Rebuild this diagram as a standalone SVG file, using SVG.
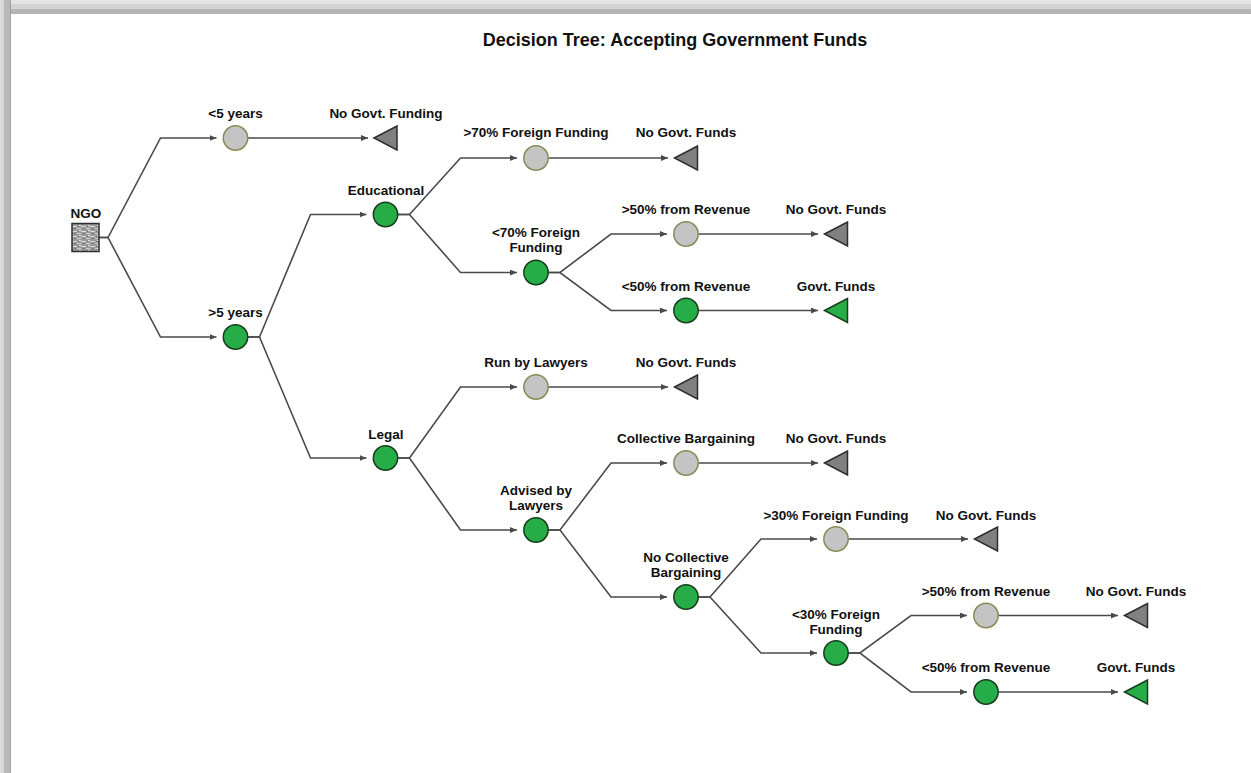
<svg xmlns="http://www.w3.org/2000/svg" width="1251" height="773" viewBox="0 0 1251 773">
<style>
.lbl{font-family:"Liberation Sans",Arial,sans-serif;font-weight:bold;font-size:13.5px;fill:#111;text-anchor:middle}
.title{font-family:"Liberation Sans",Arial,sans-serif;font-weight:bold;font-size:18px;fill:#111;text-anchor:middle}
.cg{fill:#c4c4c4;stroke:#8a8a58;stroke-width:1.5}
.cgr{fill:#27ad48;stroke:#173d1c;stroke-width:1.5}
.tg{fill:#808080;stroke:#2e2e2e;stroke-width:1.5}
.tgr{fill:#27ad48;stroke:#173d1c;stroke-width:1.5}
.arr{fill:none;stroke:#4a4a4a;stroke-width:1.6;marker-end:url(#ah)}
</style>
<defs>
<marker id="ah" viewBox="0 0 7 6" refX="7" refY="3" markerWidth="7" markerHeight="6" markerUnits="userSpaceOnUse" orient="auto">
<path d="M0,0 L7,3 L0,6 z" fill="#4a4a4a"/>
</marker>
<pattern id="tex" width="9" height="5" patternUnits="userSpaceOnUse">
<rect width="9" height="5" fill="#9a9a9a"/>
<rect x="0" y="1" width="5" height="1" fill="#dadada"/>
<rect x="5" y="3" width="4" height="1" fill="#d0d0d0"/>
<rect x="2" y="3" width="2" height="1" fill="#757575"/>
<rect x="7" y="0" width="2" height="1" fill="#e6e6e6"/>
<rect x="6" y="1" width="1" height="1" fill="#6e6e6e"/>
</pattern>
<linearGradient id="topg" x1="0" y1="0" x2="0" y2="1">
<stop offset="0" stop-color="#e6e6e6"/>
<stop offset="0.25" stop-color="#e2e2e2"/>
<stop offset="0.3" stop-color="#d3d3d3"/>
<stop offset="0.62" stop-color="#d3d3d3"/>
<stop offset="0.68" stop-color="#b5b5b5"/>
<stop offset="1" stop-color="#b3b3b3"/>
</linearGradient>
<linearGradient id="leftg" x1="0" y1="0" x2="1" y2="0">
<stop offset="0" stop-color="#dcdcdc"/>
<stop offset="0.33" stop-color="#d6d6d6"/>
<stop offset="0.4" stop-color="#bababa"/>
<stop offset="0.88" stop-color="#b8b8b8"/>
<stop offset="0.92" stop-color="#a2a2a2"/>
<stop offset="1" stop-color="#a2a2a2"/>
</linearGradient>
</defs>

<g id="background">
<rect x="0" y="0" width="1251" height="773" fill="#ffffff"/>
<rect x="0" y="0" width="1251" height="14" fill="url(#topg)"/>
<rect x="0" y="0" width="11" height="773" fill="url(#leftg)"/>
</g>

<text class="title" x="675" y="46">Decision Tree: Accepting Government Funds</text>

<g id="connectors">
<path class="arr" d="M99,237.5 H108 L160.5,138 H216.5"/>
<path class="arr" d="M99,237.5 H108 L160.5,337 H216.5"/>
<path class="arr" d="M248,138 H368"/>
<path class="arr" d="M248,337 H259.5 L310.5,214.5 H366.5"/>
<path class="arr" d="M248,337 H259.5 L310.5,458 H366.5"/>
<path class="arr" d="M398,214.5 H409.5 L460.5,158 H517"/>
<path class="arr" d="M398,214.5 H409.5 L460.5,272.5 H517"/>
<path class="arr" d="M548.5,158 H668"/>
<path class="arr" d="M548.5,272.5 H560 L611,234 H667"/>
<path class="arr" d="M548.5,272.5 H560 L611,310.5 H667"/>
<path class="arr" d="M698.5,234 H818"/>
<path class="arr" d="M698.5,310.5 H818"/>
<path class="arr" d="M398,458 H409.5 L460.5,387 H517"/>
<path class="arr" d="M398,458 H409.5 L460.5,530 H517"/>
<path class="arr" d="M548.5,387 H668"/>
<path class="arr" d="M548.5,530 H560 L611,463 H667"/>
<path class="arr" d="M548.5,530 H560 L611,597 H667"/>
<path class="arr" d="M698.5,463 H818"/>
<path class="arr" d="M698.5,597 H710 L761,539 H817"/>
<path class="arr" d="M698.5,597 H710 L761,653 H817"/>
<path class="arr" d="M848.5,539 H968"/>
<path class="arr" d="M848.5,653 H860 L911,615.5 H967"/>
<path class="arr" d="M848.5,653 H860 L911,692 H967"/>
<path class="arr" d="M998.5,615.5 H1118"/>
<path class="arr" d="M998.5,692 H1118"/>
</g>

<g id="ngo">
<rect x="72" y="223.5" width="27" height="28" fill="url(#tex)" stroke="#2e2e2e" stroke-width="1.5"/>
<text class="lbl" x="86" y="218">NGO</text>
</g>

<g id="lt5">
<circle class="cg" cx="235.5" cy="138" r="12.2"/>
<text class="lbl" x="235.5" y="118">&lt;5 years</text>
</g>
<g id="gt5">
<circle class="cgr" cx="235.5" cy="337" r="12.2"/>
<text class="lbl" x="235.5" y="317">&gt;5 years</text>
</g>
<g id="leaf-lt5">
<polygon class="tg" points="374,138 397,126 397,150"/>
<text class="lbl" x="386" y="118">No Govt. Funding</text>
</g>

<g id="educational">
<circle class="cgr" cx="385.5" cy="214.5" r="12.2"/>
<text class="lbl" x="386" y="195">Educational</text>
</g>
<g id="legal">
<circle class="cgr" cx="385.5" cy="458" r="12.2"/>
<text class="lbl" x="386" y="439">Legal</text>
</g>

<g id="gt70">
<circle class="cg" cx="536" cy="158" r="12.2"/>
<text class="lbl" x="536" y="137">&gt;70% Foreign Funding</text>
</g>
<g id="leaf-gt70">
<polygon class="tg" points="674.5,158 697.5,146 697.5,170"/>
<text class="lbl" x="686" y="137">No Govt. Funds</text>
</g>
<g id="lt70">
<circle class="cgr" cx="536" cy="272.5" r="12.2"/>
<text class="lbl" x="536" y="237">&lt;70% Foreign</text>
<text class="lbl" x="536" y="252">Funding</text>
</g>

<g id="gt50a">
<circle class="cg" cx="686" cy="234" r="12.2"/>
<text class="lbl" x="686" y="214">&gt;50% from Revenue</text>
</g>
<g id="leaf-gt50a">
<polygon class="tg" points="824.5,234 847.5,222 847.5,246"/>
<text class="lbl" x="836" y="214">No Govt. Funds</text>
</g>
<g id="lt50a">
<circle class="cgr" cx="686" cy="310.5" r="12.2"/>
<text class="lbl" x="686" y="291">&lt;50% from Revenue</text>
</g>
<g id="leaf-lt50a">
<polygon class="tgr" points="824.5,310.5 847.5,298.5 847.5,322.5"/>
<text class="lbl" x="836" y="291">Govt. Funds</text>
</g>

<g id="run-lawyers">
<circle class="cg" cx="536" cy="387" r="12.2"/>
<text class="lbl" x="536" y="367">Run by Lawyers</text>
</g>
<g id="leaf-run">
<polygon class="tg" points="674.5,387 697.5,375 697.5,399"/>
<text class="lbl" x="686" y="367">No Govt. Funds</text>
</g>
<g id="advised">
<circle class="cgr" cx="536" cy="530" r="12.2"/>
<text class="lbl" x="536" y="495">Advised by</text>
<text class="lbl" x="536" y="510">Lawyers</text>
</g>

<g id="collective">
<circle class="cg" cx="686" cy="463" r="12.2"/>
<text class="lbl" x="686" y="443">Collective Bargaining</text>
</g>
<g id="leaf-collective">
<polygon class="tg" points="824.5,463 847.5,451 847.5,475"/>
<text class="lbl" x="836" y="443">No Govt. Funds</text>
</g>
<g id="no-collective">
<circle class="cgr" cx="686" cy="597" r="12.2"/>
<text class="lbl" x="686" y="562">No Collective</text>
<text class="lbl" x="686" y="577">Bargaining</text>
</g>

<g id="gt30">
<circle class="cg" cx="836" cy="539" r="12.2"/>
<text class="lbl" x="836" y="520">&gt;30% Foreign Funding</text>
</g>
<g id="leaf-gt30">
<polygon class="tg" points="974.5,539 997.5,527 997.5,551"/>
<text class="lbl" x="986" y="520">No Govt. Funds</text>
</g>
<g id="lt30">
<circle class="cgr" cx="836" cy="653" r="12.2"/>
<text class="lbl" x="836" y="619">&lt;30% Foreign</text>
<text class="lbl" x="836" y="634">Funding</text>
</g>

<g id="gt50b">
<circle class="cg" cx="986" cy="615.5" r="12.2"/>
<text class="lbl" x="986" y="596">&gt;50% from Revenue</text>
</g>
<g id="leaf-gt50b">
<polygon class="tg" points="1124.5,615.5 1147.5,603.5 1147.5,627.5"/>
<text class="lbl" x="1136" y="596">No Govt. Funds</text>
</g>
<g id="lt50b">
<circle class="cgr" cx="986" cy="692" r="12.2"/>
<text class="lbl" x="986" y="672">&lt;50% from Revenue</text>
</g>
<g id="leaf-lt50b">
<polygon class="tgr" points="1124.5,692 1147.5,680 1147.5,704"/>
<text class="lbl" x="1136" y="672">Govt. Funds</text>
</g>
</svg>
